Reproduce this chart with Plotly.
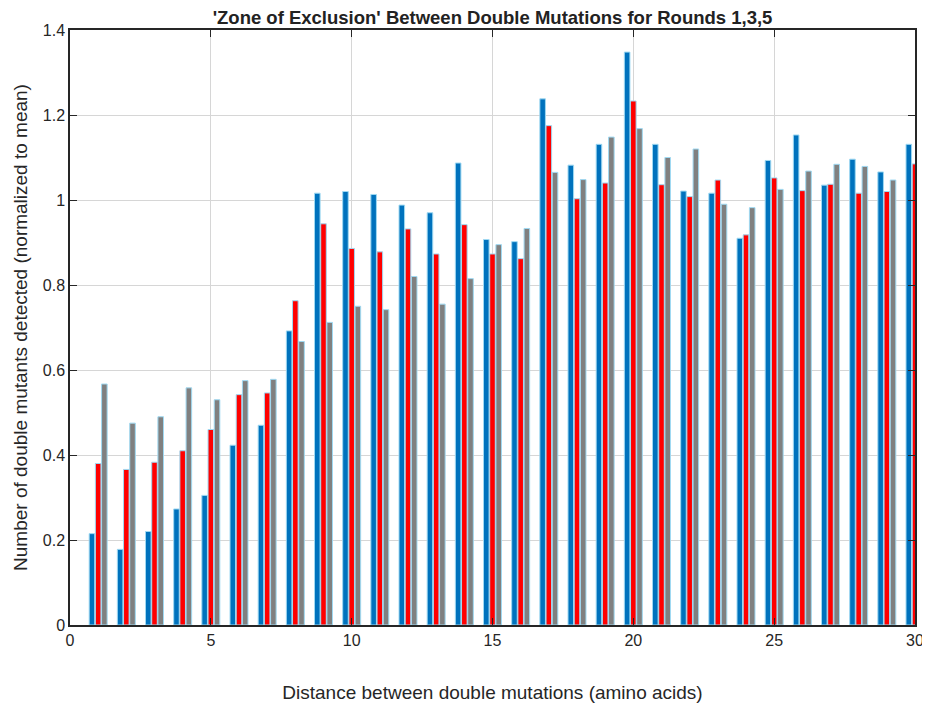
import plotly.graph_objects as go

distance = list(range(1, 31))
round1 = [0.215, 0.178, 0.220, 0.273, 0.305, 0.423, 0.470, 0.692, 1.016, 1.020,
          1.013, 0.988, 0.970, 1.087, 0.907, 0.902, 1.238, 1.082, 1.131, 1.348,
          1.131, 1.021, 1.016, 0.910, 1.093, 1.153, 1.035, 1.096, 1.066, 1.131]
round3 = [0.380, 0.366, 0.383, 0.410, 0.460, 0.542, 0.546, 0.763, 0.944, 0.886,
          0.878, 0.932, 0.873, 0.942, 0.873, 0.862, 1.175, 1.003, 1.040, 1.233,
          1.036, 1.008, 1.047, 0.918, 1.052, 1.022, 1.037, 1.016, 1.020, 1.085]
round5 = [0.567, 0.475, 0.490, 0.558, 0.530, 0.575, 0.578, 0.667, 0.712, 0.750,
          0.742, 0.820, 0.755, 0.815, 0.895, 0.933, 1.065, 1.048, 1.148, 1.168,
          1.100, 1.120, 0.990, 0.982, 1.025, 1.068, 1.084, 1.079, 1.047, 1.050]

xticks = [0, 5, 10, 15, 20, 25, 30]
yticks = [0, 0.2, 0.4, 0.6, 0.8, 1, 1.2, 1.4]
ytick_text = ["0", "0.2", "0.4", "0.6", "0.8", "1", "1.2", "1.4"]

edge = dict(color="#9fd9f2", width=1)
fig = go.Figure()
fig.add_bar(x=distance, y=round1, name="Round 1", marker=dict(color="#0072BD", line=edge))
fig.add_bar(x=distance, y=round3, name="Round 3", marker=dict(color="#FF0000", line=edge))
fig.add_bar(x=distance, y=round5, name="Round 5", marker=dict(color="#808080", line=edge))

font = "Liberation Sans, Arial, sans-serif"
fig.update_layout(
    width=922, height=696,
    margin=dict(l=62, r=15, t=22, b=79),
    paper_bgcolor="white", plot_bgcolor="white",
    barmode="group", bargap=0.34, bargroupgap=0.1,
    showlegend=False,
    title=dict(text="<b>'Zone of Exclusion' Between Double Mutations for Rounds 1,3,5</b>",
               x=0.5, xref="paper", xanchor="center", y=1.0, yanchor="top", pad=dict(t=3),
               font=dict(family=font, size=18.5, color="#222")),
    font=dict(family=font, size=16, color="#262626"),
)
axis_common = dict(showline=True, linecolor="#262626", linewidth=1.5, mirror="ticks",
                   ticks="inside", ticklen=7, tickcolor="#262626", automargin=False,
                   showgrid=True, gridcolor="#d6d6d6", gridwidth=1, zeroline=False)
fig.update_xaxes(range=[0, 30], tickvals=xticks, ticktext=[str(t) for t in xticks],
                 title=dict(text="Distance between double mutations (amino acids)",
                            font=dict(size=19), standoff=38),
                 **axis_common)
fig.update_yaxes(range=[0, 1.4], tickvals=yticks, ticktext=ytick_text,
                 title=dict(text="Number of double mutants detected (normalized to mean)",
                            font=dict(size=19), standoff=10),
                 **axis_common)

fig.write_html("out.html")
